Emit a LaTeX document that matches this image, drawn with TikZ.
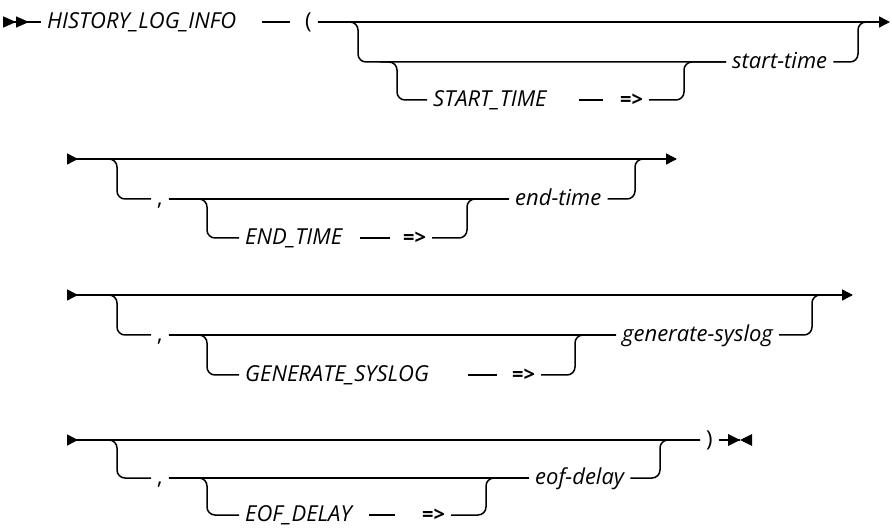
\documentclass[tikz,border=0pt]{standalone}
\usepackage{fontspec}
\newfontfamily\railfont{Open Sans}
\usetikzlibrary{arrows.meta}

\begin{document}
\begin{tikzpicture}[
  x=1pt, y=-1pt,
  font=\railfont\fontsize{22}{24}\selectfont,
  >={Triangle[length=11pt,width=11pt]},
  rail/.style={line width=1.5pt, rounded corners=8pt},
  sym/.style={anchor=west, inner xsep=6pt, inner ysep=0pt,
              text height=12.5pt, text depth=0pt},
  kw/.style={sym, font=\railfont\itshape\fontsize{22}{24}\selectfont},
  arrw/.style={sym, font=\railfont\bfseries\fontsize{20}{24}\selectfont},
]
\useasboundingbox (0,0) rectangle (892,529);

% ============================================================================
% ROW 1: HISTORY_LOG_INFO ( [ [START_TIME =>] start-time ]
% ============================================================================
\pgfmathsetmacro{\rAa}{22}
\pgfmathsetmacro{\rAb}{62}
\pgfmathsetmacro{\rAc}{100}

\coordinate (s0) at (3,\rAa);
\coordinate (e1) at (890,\rAa);
\node[kw]   (hist) at (41,\rAa)  {HISTORY\_LOG\_INFO};
\node[sym]  (lp)   at (299,\rAa) {(};
\node[kw]   (k1)   at (427,\rAc) {START\_TIME};
\node[arrw] (a1)   at (614,\rAc) {=>};
\node[kw]   (sv)   at (726,\rAb) {start-time};

\coordinate (j1a) at (358,\rAb);
\coordinate (b1)  at (380,\rAb);
\coordinate (j1b) at (397,\rAc);
\coordinate (j1c) at (684,\rAb);
\coordinate (j1d) at (858,\rAa);

\draw[rail, {Triangle[reversed,length=13pt,width=11pt]Triangle[reversed,length=13pt,width=11pt]}-]
  (s0) -- (hist.west);
\draw[rail, shorten <=20pt, shorten >=9pt] (hist.east) -- (lp.west);
\draw[rail, ->] (lp.east) -- (e1);
\draw[rail] (lp.east) -| (j1a) -- (sv.west);
\draw[rail] (b1) -| (j1b) -- (k1.west);
\draw[rail, shorten <=26pt, shorten >=11pt] (k1.east) -- (a1.west);
\draw[rail] (a1.east) -| (j1c) -- (sv.west);
\draw[rail] (sv.east) -| (j1d) -- +(12,0);

% ============================================================================
% ROW 2: [ , [END_TIME =>] end-time ]
% ============================================================================
\pgfmathsetmacro{\rBa}{159}
\pgfmathsetmacro{\rBb}{199}
\pgfmathsetmacro{\rBc}{238}

\coordinate (s2) at (67,\rBa);
\coordinate (e2) at (677,\rBa);
\node[sym]  (c2) at (151,\rBb) {,};
\node[kw]   (k2) at (239,\rBc) {END\_TIME};
\node[arrw] (a2) at (397,\rBc) {=>};
\node[kw]   (v2) at (509,\rBb) {end-time};

\coordinate (j2a) at (117,\rBb);
\coordinate (j2b) at (207,\rBc);
\coordinate (j2c) at (467,\rBb);
\coordinate (j2d) at (635,\rBa);

\draw[rail, {Triangle[reversed,length=11pt,width=11pt]}->] (s2) -- (e2);
\draw[rail] (s2) -| (j2a) -- (c2.west);
\draw[rail] (c2.east) -- (v2.west);
\draw[rail] (c2.east) -| (j2b) -- (k2.west);
\draw[rail, shorten <=12pt, shorten >=7pt] (k2.east) -- (a2.west);
\draw[rail] (a2.east) -| (j2c) -- (v2.west);
\draw[rail] (v2.east) -| (j2d) -- +(12,0);

% ============================================================================
% ROW 3: [ , [GENERATE_SYSLOG =>] generate-syslog ]
% ============================================================================
\pgfmathsetmacro{\rCa}{295}
\pgfmathsetmacro{\rCb}{335}
\pgfmathsetmacro{\rCc}{375}

\coordinate (s3) at (67,\rCa);
\coordinate (e3) at (853,\rCa);
\node[sym]  (c3) at (151,\rCb) {,};
\node[kw]   (k3) at (239,\rCc) {GENERATE\_SYSLOG};
\node[arrw] (a3) at (506,\rCc) {=>};
\node[kw]   (v3) at (616,\rCb) {generate-syslog};

\coordinate (j3a) at (117,\rCb);
\coordinate (j3b) at (207,\rCc);
\coordinate (j3c) at (575,\rCb);
\coordinate (j3d) at (812,\rCa);

\draw[rail, {Triangle[reversed,length=11pt,width=11pt]}->] (s3) -- (e3);
\draw[rail] (s3) -| (j3a) -- (c3.west);
\draw[rail] (c3.east) -- (v3.west);
\draw[rail] (c3.east) -| (j3b) -- (k3.west);
\draw[rail, shorten <=33pt, shorten >=9pt] (k3.east) -- (a3.west);
\draw[rail] (a3.east) -| (j3c) -- (v3.west);
\draw[rail] (v3.east) -| (j3d) -- +(12,0);

% ============================================================================
% ROW 4: [ , [EOF_DELAY =>] eof-delay ] )
% ============================================================================
\pgfmathsetmacro{\rDa}{440}
\pgfmathsetmacro{\rDb}{478}
\pgfmathsetmacro{\rDc}{515}

\coordinate (s4) at (67,\rDa);
\coordinate (eol) at (740,\rDa);
\node[sym]  (c4) at (151,\rDb) {,};
\node[kw]   (k4) at (239,\rDc) {EOF\_DELAY};
\node[arrw] (a4) at (416,\rDc) {=>};
\node[kw]   (v4) at (529,\rDb) {eof-delay};
\node[sym]  (rp) at (700,\rDa) {)};

\coordinate (j4a) at (117,\rDb);
\coordinate (j4b) at (207,\rDc);
\coordinate (j4c) at (486,\rDb);
\coordinate (j4d) at (660,\rDa);

\draw[rail, {Triangle[reversed,length=11pt,width=11pt]}-] (s4) -- (rp.west);
\draw[rail] (s4) -| (j4a) -- (c4.west);
\draw[rail] (c4.east) -- (v4.west);
\draw[rail] (c4.east) -| (j4b) -- (k4.west);
\draw[rail, shorten <=11pt, shorten >=21pt] (k4.east) -- (a4.west);
\draw[rail] (a4.east) -| (j4c) -- (v4.west);
\draw[rail] (v4.east) -| (j4d) -- (rp.west);

% end-of-statement mark
\draw[rail] (rp.east) -- (eol);
\fill (eol) -- ++(-12,-6) -- ++(0,12) -- cycle;
\fill (eol) -- ++(12,-6) -- ++(0,12) -- cycle;

\end{tikzpicture}
\end{document}
